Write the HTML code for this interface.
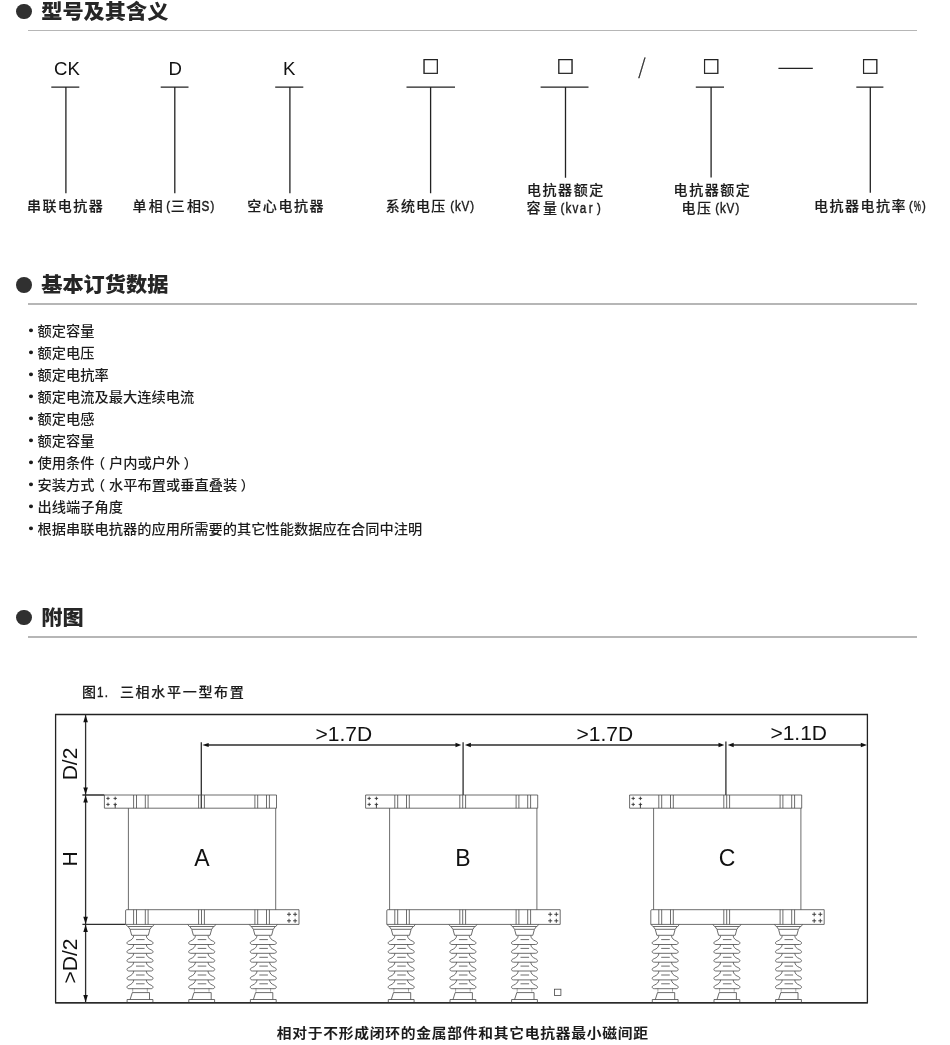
<!DOCTYPE html>
<html lang="zh-CN">
<head>
<meta charset="utf-8">
<title>型号及其含义</title>
<style>
html,body{margin:0;padding:0;background:#fff;}
body{font-family:"Liberation Sans","Noto Sans CJK SC",sans-serif;color:#1c1c1c;}
.page{position:relative;width:950px;height:1045px;overflow:hidden;background:#fff;will-change:transform;}
section,figure,ul,li,h2,p{margin:0;padding:0;}
ul{list-style:none;}
svg{position:absolute;left:0;display:block;overflow:visible;}
text{font-family:"Liberation Sans","Noto Sans CJK SC",sans-serif;}
h2{position:absolute;left:41.2px;height:24px;line-height:24px;white-space:nowrap;font-weight:900;font-size:21.2px;color:#262626;transform:scaleY(0.95);transform-origin:0 19.35px;}
.dot{position:absolute;left:16.1px;width:15.8px;height:15.8px;border-radius:50%;background:#303030;}
.rule{position:absolute;left:28px;width:888.7px;height:1.6px;background:#b6b6b6;}
li{position:absolute;left:37.6px;height:16px;line-height:16px;white-space:nowrap;font-size:14.25px;font-weight:500;color:#1c1c1c;transform:scaleY(0.94);transform-origin:0 12.94px;}
li i{position:absolute;left:-9px;top:4.7px;width:4.4px;height:4.7px;border-radius:50%;background:#1c1c1c;}
li .po{position:relative;left:-3.7px;}
li .pc{position:relative;left:3.4px;}
.lab{font-size:14px;fill:#1c1c1c;font-weight:500;stroke:#1c1c1c;stroke-width:0.15px;}
.lat{fill:#1c1c1c;stroke:#1c1c1c;stroke-width:0.45px;}
.code{font-size:18.6px;fill:#111;}
.sym{font-family:"Noto Sans CJK SC",sans-serif;fill:#222;}
.dim{font-size:21px;fill:#111;}
.big{font-size:23px;fill:#111;}
.t{fill:none;stroke:#474747;stroke-width:0.8;}
.d{fill:none;stroke:#2e2e2e;stroke-width:1.3;}
.k{fill:none;stroke:#222;stroke-width:1.3;}
</style>
</head>
<body>
<main class="page">

<section>
<span class="dot" style="top:3.7px"></span>
<h2 style="top:0.00px">型号及其含义</h2>
<div class="rule" style="top:29.9px"></div>
<svg style="top:40px" width="950" height="200" viewBox="0 40 950 200">
<path class="k" d="M51.3 87.1H79.3 M65.9 87.1V193.2"/>
<text class="code" x="67.0" y="75.2" text-anchor="middle">CK</text>
<path class="k" d="M160.7 87.1H188.5 M174.8 87.1V193.2"/>
<text class="code" x="175.2" y="75.2" text-anchor="middle">D</text>
<path class="k" d="M275.2 87.1H303.3 M289.9 87.1V193.2"/>
<text class="code" x="289.2" y="75.2" text-anchor="middle">K</text>
<path class="k" d="M406.5 87.1H455.0 M430.6 87.1V193.2"/>
<path class="k" d="M540.6 87.1H588.5 M565.5 87.1V177.8"/>
<path class="k" d="M695.8 87.1H724.0 M711.1 87.1V177.5"/>
<path class="k" d="M856.3 87.1H883.4 M870.3 87.1V192.8"/>
<text class="sym" x="430.6" y="72.75" text-anchor="middle" style="font-size:17.4px;stroke:#222;stroke-width:0.55px">□</text>
<text class="sym" x="565.4" y="72.75" text-anchor="middle" style="font-size:17.4px;stroke:#222;stroke-width:0.55px">□</text>
<text class="sym" x="711.1" y="72.75" text-anchor="middle" style="font-size:17.4px;stroke:#222;stroke-width:0.55px">□</text>
<text class="sym" x="870.2" y="72.75" text-anchor="middle" style="font-size:17.4px;stroke:#222;stroke-width:0.55px">□</text>
<text class="sym" text-anchor="middle" transform="translate(642.0 73.8) scale(0.88 1)" style="font-size:21px;font-weight:300;stroke:#222;stroke-width:0.35px">/</text>
<text class="sym" x="776.8" y="72.8" textLength="38.0" lengthAdjust="spacingAndGlyphs" style="font-size:17.4px;stroke:#222;stroke-width:0.15px">—</text>
<text class="lab" x="27.0" y="211.3" style="letter-spacing:1.43px">串联电抗器</text>
<text class="lab" x="132.6" y="211.3" style="letter-spacing:2.10px">单相</text>
<text class="lat" text-anchor="middle" transform="translate(168.2 210.2) scale(0.84 1)" style="font-size:13.6px">(</text>
<text class="lab" x="170.7" y="211.3" style="letter-spacing:2.20px">三相</text>
<text class="lat" text-anchor="middle" transform="translate(205.3 211.3) scale(0.76 1)" style="font-size:15.4px">S</text>
<text class="lat" text-anchor="middle" transform="translate(212.4 210.2) scale(0.84 1)" style="font-size:13.6px">)</text>
<text class="lab" x="247.2" y="211.3" style="letter-spacing:1.60px">空心电抗器</text>
<text class="lab" x="385.7" y="211.3" style="letter-spacing:1.20px">系统电压</text>
<text class="lat" text-anchor="middle" transform="translate(452.1 210.2) scale(0.84 1)" style="font-size:13.6px">(</text>
<text class="lat" text-anchor="middle" transform="translate(457.8 211.3) scale(0.76 1)" style="font-size:15.4px">k</text>
<text class="lat" text-anchor="middle" transform="translate(465.3 211.3) scale(0.76 1)" style="font-size:15.4px">V</text>
<text class="lat" text-anchor="middle" transform="translate(472.2 210.2) scale(0.84 1)" style="font-size:13.6px">)</text>
<text class="lab" x="527.0" y="195.1" style="letter-spacing:1.55px">电抗器额定</text>
<text class="lab" x="526.6" y="213.4" style="letter-spacing:2.30px">容量</text>
<text class="lat" text-anchor="middle" transform="translate(562.4 212.3) scale(0.84 1)" style="font-size:13.6px">(</text>
<text class="lat" text-anchor="middle" transform="translate(568.3 213.4) scale(0.76 1)" style="font-size:15.4px">k</text>
<text class="lat" text-anchor="middle" transform="translate(575.4 213.4) scale(0.76 1)" style="font-size:15.4px">v</text>
<text class="lat" text-anchor="middle" transform="translate(583.0 213.4) scale(0.76 1)" style="font-size:15.4px">a</text>
<text class="lat" text-anchor="middle" transform="translate(590.6 213.4) scale(0.76 1)" style="font-size:15.4px">r</text>
<text class="lat" text-anchor="middle" transform="translate(599.0 212.3) scale(0.84 1)" style="font-size:13.6px">)</text>
<text class="lab" x="673.6" y="195.1" style="letter-spacing:1.55px">电抗器额定</text>
<text class="lab" x="681.4" y="213.4" style="letter-spacing:1.50px">电压</text>
<text class="lat" text-anchor="middle" transform="translate(717.1 212.3) scale(0.84 1)" style="font-size:13.6px">(</text>
<text class="lat" text-anchor="middle" transform="translate(722.9 213.4) scale(0.76 1)" style="font-size:15.4px">k</text>
<text class="lat" text-anchor="middle" transform="translate(730.3 213.4) scale(0.76 1)" style="font-size:15.4px">V</text>
<text class="lat" text-anchor="middle" transform="translate(737.3 212.3) scale(0.84 1)" style="font-size:13.6px">)</text>
<text class="lab" x="813.9" y="211.3" style="letter-spacing:1.54px">电抗器电抗率</text>
<text class="lat" text-anchor="middle" transform="translate(910.9 210.2) scale(0.84 1)" style="font-size:13.6px">(</text>
<text class="lat" text-anchor="middle" transform="translate(917.2 211.3) scale(0.52 1)" style="font-size:15.4px">%</text>
<text class="lat" text-anchor="middle" transform="translate(924.0 210.2) scale(0.84 1)" style="font-size:13.6px">)</text>
</svg>
</section>
<section>
<span class="dot" style="top:276.9px"></span>
<h2 style="top:272.60px">基本订货数据</h2>
<div class="rule" style="top:303.3px"></div>
<ul>
<li style="top:323.16px"><i></i>额定容量</li>
<li style="top:345.16px"><i></i>额定电压</li>
<li style="top:367.16px"><i></i>额定电抗率</li>
<li style="top:389.16px"><i></i>额定电流及最大连续电流</li>
<li style="top:411.16px"><i></i>额定电感</li>
<li style="top:433.16px"><i></i>额定容量</li>
<li style="top:455.16px"><i></i>使用条件<span class="po">（</span>户内或户外<span class="pc">）</span></li>
<li style="top:477.16px"><i></i>安装方式<span class="po">（</span>水平布置或垂直叠装<span class="pc">）</span></li>
<li style="top:499.16px"><i></i>出线端子角度</li>
<li style="top:521.16px"><i></i>根据串联电抗器的应用所需要的其它性能数据应在合同中注明</li>
</ul>
</section>
<section>
<span class="dot" style="top:609.5px"></span>
<h2 style="top:606.05px">附图</h2>
<div class="rule" style="top:636.0px"></div>
<figure>
<svg style="top:670px" width="950" height="375" viewBox="0 670 950 375">
<text class="lab" x="82.0" y="697.3" style="letter-spacing:0.00px">图</text>
<text class="lat" text-anchor="middle" transform="translate(100.3 697.3) scale(0.76 1)" style="font-size:15.4px">1</text>
<text class="lat" text-anchor="middle" transform="translate(106.4 697.3) scale(0.76 1)" style="font-size:15.4px">.</text>
<text class="lab" x="119.9" y="697.3" style="letter-spacing:1.70px">三相水平一型布置</text>
<text class="lab" transform="translate(276.8 1038.4) scale(1 0.91)" style="font-size:14.8px;font-weight:700;letter-spacing:0.72px;stroke:none">相对于不形成闭环的金属部件和其它电抗器最小磁间距</text>
<path class="k" d="M55.6 1002.9V714.5H867.4V1002.9"/>
<rect x="55.1" y="1002.0" width="812.8" height="1.7" fill="#2a2a2a"/>
<path class="d" d="M85.6 714.5V1002.9"/>
<path class="d" d="M82.4 795.0H104.4 M82.4 924.4H125.6"/>
<path d="M85.60 715.00L87.90 722.20L83.30 722.20Z" fill="#111"/>
<path d="M85.60 794.60L83.30 787.40L87.90 787.40Z" fill="#111"/>
<path d="M85.60 795.40L87.90 802.60L83.30 802.60Z" fill="#111"/>
<path d="M85.60 924.00L83.30 916.80L87.90 916.80Z" fill="#111"/>
<path d="M85.60 924.80L87.90 932.00L83.30 932.00Z" fill="#111"/>
<path d="M85.60 1002.30L83.30 995.10L87.90 995.10Z" fill="#111"/>
<text class="dim" text-anchor="middle" transform="translate(77.2 764.0) rotate(-90)">D/2</text>
<text class="dim" text-anchor="middle" transform="translate(77.2 859.0) rotate(-90)">H</text>
<text class="dim" text-anchor="middle" transform="translate(77.2 961.0) rotate(-90)">&gt;D/2</text>
<path class="d" d="M208.0 745.0H456.2 M470.2 745.0H719.2 M733.0 745.0H861.4"/>
<path class="d" d="M201.3 742.3V808.2 M463.1 742.2V795.0 M725.9 741.6V795.0"/>
<path d="M202.30 745.00L208.70 742.90L208.70 747.10Z" fill="#111"/>
<path d="M461.30 745.00L455.50 747.20L455.50 742.80Z" fill="#111"/>
<path d="M464.90 745.00L470.90 742.80L470.90 747.20Z" fill="#111"/>
<path d="M724.30 745.00L718.50 747.20L718.50 742.80Z" fill="#111"/>
<path d="M727.70 745.00L733.70 742.80L733.70 747.20Z" fill="#111"/>
<path d="M867.00 745.00L860.80 747.20L860.80 742.80Z" fill="#111"/>
<text class="dim" x="315.6" y="740.6">&gt;1.7D</text>
<text class="dim" x="576.5" y="740.6">&gt;1.7D</text>
<text class="dim" x="770.4" y="740.4">&gt;1.1D</text>
<path class="t" style="stroke:#333;stroke-width:0.9" d="M106.3 798.4H109.7M108.0 796.7V800.1M113.5 798.4H116.9M115.2 796.7V800.1M106.3 804.4H109.7M108.0 802.7V806.1M113.5 804.4H116.9M115.2 802.7V806.1M115.2 804.4V808.2M287.0 914.3H291.0M289.0 912.3V916.3M293.1 914.3H297.1M295.1 912.3V916.3M287.0 920.8H291.0M289.0 918.8V922.8M293.1 920.8H297.1M295.1 918.8V922.8"/>
<path class="t" d="M104.4 795.0H276.5V808.2H104.4ZM126.7 909.7H299.0V924.4H125.6V910.7Q125.6 909.7 126.7 909.7M128.4 808.2V909.7 M275.7 808.2V909.7M148.1 795.0V808.2M254.9 795.0V808.2M145.3 795.0V808.2M257.7 795.0V808.2M136.5 795.0V808.2M266.5 795.0V808.2M133.6 795.0V808.2M269.4 795.0V808.2M198.6 795.0V808.2M201.5 795.0V808.2M204.4 795.0V808.2M148.1 909.7V924.4M254.9 909.7V924.4M145.3 909.7V924.4M257.7 909.7V924.4M136.5 909.7V924.4M266.5 909.7V924.4M133.6 909.7V924.4M269.4 909.7V924.4M198.6 909.7V924.4M201.5 909.7V924.4M204.4 909.7V924.4"/>
<path class="t" style="stroke-dasharray:1 0.8" d="M132.7 988.6V992.4 M147.3 988.6V992.4"/>
<path class="t" d="M126.0 924.5L127.6 926.5H152.6L154.0 924.5M128.3 926.8L130.0 929.3H150.0L151.7 926.8M130.1 929.5L131.7 935.3H148.3L149.9 929.5M133.7 935.7C133.5 938.3 131.8 939.8 129.0 941.0C127.7 941.5 126.9 942.2 127.0 943.0C127.1 944.0 127.9 944.5 129.1 944.5L150.9 944.5C152.1 944.5 152.9 944.0 153.0 943.0C153.1 942.2 152.3 941.5 151.0 941.0C148.2 939.8 146.5 938.3 146.3 935.7M136.0 939.6H144.6M133.7 944.5C133.5 947.1 131.8 948.6 129.0 949.8C127.7 950.3 126.9 951.0 127.0 951.8C127.1 952.8 127.9 953.3 129.1 953.3L150.9 953.3C152.1 953.3 152.9 952.8 153.0 951.8C153.1 951.0 152.3 950.3 151.0 949.8C148.2 948.6 146.5 947.1 146.3 944.5M136.0 948.4H144.6M133.7 953.4C133.5 956.0 131.8 957.5 129.0 958.7C127.7 959.2 126.9 959.9 127.0 960.7C127.1 961.7 127.9 962.2 129.1 962.2L150.9 962.2C152.1 962.2 152.9 961.7 153.0 960.7C153.1 959.9 152.3 959.2 151.0 958.7C148.2 957.5 146.5 956.0 146.3 953.4M136.0 957.3H144.6M133.7 962.2C133.5 964.8 131.8 966.3 129.0 967.5C127.7 968.0 126.9 968.7 127.0 969.5C127.1 970.5 127.9 971.0 129.1 971.0L150.9 971.0C152.1 971.0 152.9 970.5 153.0 969.5C153.1 968.7 152.3 968.0 151.0 967.5C148.2 966.3 146.5 964.8 146.3 962.2M136.0 966.1H144.6M133.7 971.1C133.5 973.7 131.8 975.2 129.0 976.4C127.7 976.9 126.9 977.6 127.0 978.4C127.1 979.4 127.9 979.9 129.1 979.9L150.9 979.9C152.1 979.9 152.9 979.4 153.0 978.4C153.1 977.6 152.3 976.9 151.0 976.4C148.2 975.2 146.5 973.7 146.3 971.1M136.0 975.0H144.6M133.7 979.9C133.5 982.5 131.8 984.0 129.0 985.2C127.7 985.7 126.9 986.4 127.0 987.2C127.1 988.2 127.9 988.7 129.1 988.7L150.9 988.7C152.1 988.7 152.9 988.2 153.0 987.2C153.1 986.4 152.3 985.7 151.0 985.2C148.2 984.0 146.5 982.5 146.3 979.9M136.0 983.8H144.6M130.1 999.5L132.3 992.6H149.5V999.5M127.1 1002.3V999.5H152.9V1002.3"/>
<path class="t" style="stroke-dasharray:1 0.8" d="M194.4 988.6V992.4 M209.0 988.6V992.4"/>
<path class="t" d="M187.7 924.5L189.3 926.5H214.3L215.7 924.5M190.0 926.8L191.7 929.3H211.7L213.4 926.8M191.8 929.5L193.4 935.3H210.0L211.6 929.5M195.4 935.7C195.2 938.3 193.5 939.8 190.7 941.0C189.4 941.5 188.6 942.2 188.7 943.0C188.8 944.0 189.6 944.5 190.8 944.5L212.6 944.5C213.8 944.5 214.6 944.0 214.7 943.0C214.8 942.2 214.0 941.5 212.7 941.0C209.9 939.8 208.2 938.3 208.0 935.7M197.7 939.6H206.3M195.4 944.5C195.2 947.1 193.5 948.6 190.7 949.8C189.4 950.3 188.6 951.0 188.7 951.8C188.8 952.8 189.6 953.3 190.8 953.3L212.6 953.3C213.8 953.3 214.6 952.8 214.7 951.8C214.8 951.0 214.0 950.3 212.7 949.8C209.9 948.6 208.2 947.1 208.0 944.5M197.7 948.4H206.3M195.4 953.4C195.2 956.0 193.5 957.5 190.7 958.7C189.4 959.2 188.6 959.9 188.7 960.7C188.8 961.7 189.6 962.2 190.8 962.2L212.6 962.2C213.8 962.2 214.6 961.7 214.7 960.7C214.8 959.9 214.0 959.2 212.7 958.7C209.9 957.5 208.2 956.0 208.0 953.4M197.7 957.3H206.3M195.4 962.2C195.2 964.8 193.5 966.3 190.7 967.5C189.4 968.0 188.6 968.7 188.7 969.5C188.8 970.5 189.6 971.0 190.8 971.0L212.6 971.0C213.8 971.0 214.6 970.5 214.7 969.5C214.8 968.7 214.0 968.0 212.7 967.5C209.9 966.3 208.2 964.8 208.0 962.2M197.7 966.1H206.3M195.4 971.1C195.2 973.7 193.5 975.2 190.7 976.4C189.4 976.9 188.6 977.6 188.7 978.4C188.8 979.4 189.6 979.9 190.8 979.9L212.6 979.9C213.8 979.9 214.6 979.4 214.7 978.4C214.8 977.6 214.0 976.9 212.7 976.4C209.9 975.2 208.2 973.7 208.0 971.1M197.7 975.0H206.3M195.4 979.9C195.2 982.5 193.5 984.0 190.7 985.2C189.4 985.7 188.6 986.4 188.7 987.2C188.8 988.2 189.6 988.7 190.8 988.7L212.6 988.7C213.8 988.7 214.6 988.2 214.7 987.2C214.8 986.4 214.0 985.7 212.7 985.2C209.9 984.0 208.2 982.5 208.0 979.9M197.7 983.8H206.3M191.8 999.5L194.0 992.6H211.2V999.5M188.8 1002.3V999.5H214.6V1002.3"/>
<path class="t" style="stroke-dasharray:1 0.8" d="M256.0 988.6V992.4 M270.6 988.6V992.4"/>
<path class="t" d="M249.3 924.5L250.9 926.5H275.9L277.3 924.5M251.6 926.8L253.3 929.3H273.3L275.0 926.8M253.4 929.5L255.0 935.3H271.6L273.2 929.5M257.0 935.7C256.8 938.3 255.1 939.8 252.3 941.0C251.0 941.5 250.2 942.2 250.3 943.0C250.4 944.0 251.2 944.5 252.4 944.5L274.2 944.5C275.4 944.5 276.2 944.0 276.3 943.0C276.4 942.2 275.6 941.5 274.3 941.0C271.5 939.8 269.8 938.3 269.6 935.7M259.3 939.6H267.9M257.0 944.5C256.8 947.1 255.1 948.6 252.3 949.8C251.0 950.3 250.2 951.0 250.3 951.8C250.4 952.8 251.2 953.3 252.4 953.3L274.2 953.3C275.4 953.3 276.2 952.8 276.3 951.8C276.4 951.0 275.6 950.3 274.3 949.8C271.5 948.6 269.8 947.1 269.6 944.5M259.3 948.4H267.9M257.0 953.4C256.8 956.0 255.1 957.5 252.3 958.7C251.0 959.2 250.2 959.9 250.3 960.7C250.4 961.7 251.2 962.2 252.4 962.2L274.2 962.2C275.4 962.2 276.2 961.7 276.3 960.7C276.4 959.9 275.6 959.2 274.3 958.7C271.5 957.5 269.8 956.0 269.6 953.4M259.3 957.3H267.9M257.0 962.2C256.8 964.8 255.1 966.3 252.3 967.5C251.0 968.0 250.2 968.7 250.3 969.5C250.4 970.5 251.2 971.0 252.4 971.0L274.2 971.0C275.4 971.0 276.2 970.5 276.3 969.5C276.4 968.7 275.6 968.0 274.3 967.5C271.5 966.3 269.8 964.8 269.6 962.2M259.3 966.1H267.9M257.0 971.1C256.8 973.7 255.1 975.2 252.3 976.4C251.0 976.9 250.2 977.6 250.3 978.4C250.4 979.4 251.2 979.9 252.4 979.9L274.2 979.9C275.4 979.9 276.2 979.4 276.3 978.4C276.4 977.6 275.6 976.9 274.3 976.4C271.5 975.2 269.8 973.7 269.6 971.1M259.3 975.0H267.9M257.0 979.9C256.8 982.5 255.1 984.0 252.3 985.2C251.0 985.7 250.2 986.4 250.3 987.2C250.4 988.2 251.2 988.7 252.4 988.7L274.2 988.7C275.4 988.7 276.2 988.2 276.3 987.2C276.4 986.4 275.6 985.7 274.3 985.2C271.5 984.0 269.8 982.5 269.6 979.9M259.3 983.8H267.9M253.4 999.5L255.6 992.6H272.8V999.5M250.4 1002.3V999.5H276.2V1002.3"/>
<text class="big" x="201.8" y="866.3" text-anchor="middle">A</text>
<path class="t" style="stroke:#333;stroke-width:0.9" d="M367.5 798.4H370.9M369.2 796.7V800.1M374.7 798.4H378.1M376.4 796.7V800.1M367.5 804.4H370.9M369.2 802.7V806.1M374.7 804.4H378.1M376.4 802.7V806.1M376.4 804.4V808.2M548.2 914.3H552.2M550.2 912.3V916.3M554.3 914.3H558.3M556.3 912.3V916.3M548.2 920.8H552.2M550.2 918.8V922.8M554.3 920.8H558.3M556.3 918.8V922.8"/>
<path class="t" d="M365.6 795.0H537.7V808.2H365.6ZM387.9 909.7H560.2V924.4H386.8V910.7Q386.8 909.7 387.9 909.7M389.6 808.2V909.7 M536.9 808.2V909.7M409.3 795.0V808.2M516.1 795.0V808.2M406.5 795.0V808.2M518.9 795.0V808.2M397.7 795.0V808.2M527.7 795.0V808.2M394.8 795.0V808.2M530.6 795.0V808.2M459.8 795.0V808.2M462.7 795.0V808.2M465.6 795.0V808.2M409.3 909.7V924.4M516.1 909.7V924.4M406.5 909.7V924.4M518.9 909.7V924.4M397.7 909.7V924.4M527.7 909.7V924.4M394.8 909.7V924.4M530.6 909.7V924.4M459.8 909.7V924.4M462.7 909.7V924.4M465.6 909.7V924.4"/>
<path class="t" style="stroke-dasharray:1 0.8" d="M393.9 988.6V992.4 M408.5 988.6V992.4"/>
<path class="t" d="M387.2 924.5L388.8 926.5H413.8L415.2 924.5M389.5 926.8L391.2 929.3H411.2L412.9 926.8M391.3 929.5L392.9 935.3H409.5L411.1 929.5M394.9 935.7C394.7 938.3 393.0 939.8 390.2 941.0C388.9 941.5 388.1 942.2 388.2 943.0C388.3 944.0 389.1 944.5 390.3 944.5L412.1 944.5C413.3 944.5 414.1 944.0 414.2 943.0C414.3 942.2 413.5 941.5 412.2 941.0C409.4 939.8 407.7 938.3 407.5 935.7M397.2 939.6H405.8M394.9 944.5C394.7 947.1 393.0 948.6 390.2 949.8C388.9 950.3 388.1 951.0 388.2 951.8C388.3 952.8 389.1 953.3 390.3 953.3L412.1 953.3C413.3 953.3 414.1 952.8 414.2 951.8C414.3 951.0 413.5 950.3 412.2 949.8C409.4 948.6 407.7 947.1 407.5 944.5M397.2 948.4H405.8M394.9 953.4C394.7 956.0 393.0 957.5 390.2 958.7C388.9 959.2 388.1 959.9 388.2 960.7C388.3 961.7 389.1 962.2 390.3 962.2L412.1 962.2C413.3 962.2 414.1 961.7 414.2 960.7C414.3 959.9 413.5 959.2 412.2 958.7C409.4 957.5 407.7 956.0 407.5 953.4M397.2 957.3H405.8M394.9 962.2C394.7 964.8 393.0 966.3 390.2 967.5C388.9 968.0 388.1 968.7 388.2 969.5C388.3 970.5 389.1 971.0 390.3 971.0L412.1 971.0C413.3 971.0 414.1 970.5 414.2 969.5C414.3 968.7 413.5 968.0 412.2 967.5C409.4 966.3 407.7 964.8 407.5 962.2M397.2 966.1H405.8M394.9 971.1C394.7 973.7 393.0 975.2 390.2 976.4C388.9 976.9 388.1 977.6 388.2 978.4C388.3 979.4 389.1 979.9 390.3 979.9L412.1 979.9C413.3 979.9 414.1 979.4 414.2 978.4C414.3 977.6 413.5 976.9 412.2 976.4C409.4 975.2 407.7 973.7 407.5 971.1M397.2 975.0H405.8M394.9 979.9C394.7 982.5 393.0 984.0 390.2 985.2C388.9 985.7 388.1 986.4 388.2 987.2C388.3 988.2 389.1 988.7 390.3 988.7L412.1 988.7C413.3 988.7 414.1 988.2 414.2 987.2C414.3 986.4 413.5 985.7 412.2 985.2C409.4 984.0 407.7 982.5 407.5 979.9M397.2 983.8H405.8M391.3 999.5L393.5 992.6H410.7V999.5M388.3 1002.3V999.5H414.1V1002.3"/>
<path class="t" style="stroke-dasharray:1 0.8" d="M455.6 988.6V992.4 M470.2 988.6V992.4"/>
<path class="t" d="M448.9 924.5L450.5 926.5H475.5L476.9 924.5M451.2 926.8L452.9 929.3H472.9L474.6 926.8M453.0 929.5L454.6 935.3H471.2L472.8 929.5M456.6 935.7C456.4 938.3 454.7 939.8 451.9 941.0C450.6 941.5 449.8 942.2 449.9 943.0C450.0 944.0 450.8 944.5 452.0 944.5L473.8 944.5C475.0 944.5 475.8 944.0 475.9 943.0C476.0 942.2 475.2 941.5 473.9 941.0C471.1 939.8 469.4 938.3 469.2 935.7M458.9 939.6H467.5M456.6 944.5C456.4 947.1 454.7 948.6 451.9 949.8C450.6 950.3 449.8 951.0 449.9 951.8C450.0 952.8 450.8 953.3 452.0 953.3L473.8 953.3C475.0 953.3 475.8 952.8 475.9 951.8C476.0 951.0 475.2 950.3 473.9 949.8C471.1 948.6 469.4 947.1 469.2 944.5M458.9 948.4H467.5M456.6 953.4C456.4 956.0 454.7 957.5 451.9 958.7C450.6 959.2 449.8 959.9 449.9 960.7C450.0 961.7 450.8 962.2 452.0 962.2L473.8 962.2C475.0 962.2 475.8 961.7 475.9 960.7C476.0 959.9 475.2 959.2 473.9 958.7C471.1 957.5 469.4 956.0 469.2 953.4M458.9 957.3H467.5M456.6 962.2C456.4 964.8 454.7 966.3 451.9 967.5C450.6 968.0 449.8 968.7 449.9 969.5C450.0 970.5 450.8 971.0 452.0 971.0L473.8 971.0C475.0 971.0 475.8 970.5 475.9 969.5C476.0 968.7 475.2 968.0 473.9 967.5C471.1 966.3 469.4 964.8 469.2 962.2M458.9 966.1H467.5M456.6 971.1C456.4 973.7 454.7 975.2 451.9 976.4C450.6 976.9 449.8 977.6 449.9 978.4C450.0 979.4 450.8 979.9 452.0 979.9L473.8 979.9C475.0 979.9 475.8 979.4 475.9 978.4C476.0 977.6 475.2 976.9 473.9 976.4C471.1 975.2 469.4 973.7 469.2 971.1M458.9 975.0H467.5M456.6 979.9C456.4 982.5 454.7 984.0 451.9 985.2C450.6 985.7 449.8 986.4 449.9 987.2C450.0 988.2 450.8 988.7 452.0 988.7L473.8 988.7C475.0 988.7 475.8 988.2 475.9 987.2C476.0 986.4 475.2 985.7 473.9 985.2C471.1 984.0 469.4 982.5 469.2 979.9M458.9 983.8H467.5M453.0 999.5L455.2 992.6H472.4V999.5M450.0 1002.3V999.5H475.8V1002.3"/>
<path class="t" style="stroke-dasharray:1 0.8" d="M517.2 988.6V992.4 M531.8 988.6V992.4"/>
<path class="t" d="M510.5 924.5L512.1 926.5H537.1L538.5 924.5M512.8 926.8L514.5 929.3H534.5L536.2 926.8M514.6 929.5L516.2 935.3H532.8L534.4 929.5M518.2 935.7C518.0 938.3 516.3 939.8 513.5 941.0C512.2 941.5 511.4 942.2 511.5 943.0C511.6 944.0 512.4 944.5 513.6 944.5L535.4 944.5C536.6 944.5 537.4 944.0 537.5 943.0C537.6 942.2 536.8 941.5 535.5 941.0C532.7 939.8 531.0 938.3 530.8 935.7M520.5 939.6H529.1M518.2 944.5C518.0 947.1 516.3 948.6 513.5 949.8C512.2 950.3 511.4 951.0 511.5 951.8C511.6 952.8 512.4 953.3 513.6 953.3L535.4 953.3C536.6 953.3 537.4 952.8 537.5 951.8C537.6 951.0 536.8 950.3 535.5 949.8C532.7 948.6 531.0 947.1 530.8 944.5M520.5 948.4H529.1M518.2 953.4C518.0 956.0 516.3 957.5 513.5 958.7C512.2 959.2 511.4 959.9 511.5 960.7C511.6 961.7 512.4 962.2 513.6 962.2L535.4 962.2C536.6 962.2 537.4 961.7 537.5 960.7C537.6 959.9 536.8 959.2 535.5 958.7C532.7 957.5 531.0 956.0 530.8 953.4M520.5 957.3H529.1M518.2 962.2C518.0 964.8 516.3 966.3 513.5 967.5C512.2 968.0 511.4 968.7 511.5 969.5C511.6 970.5 512.4 971.0 513.6 971.0L535.4 971.0C536.6 971.0 537.4 970.5 537.5 969.5C537.6 968.7 536.8 968.0 535.5 967.5C532.7 966.3 531.0 964.8 530.8 962.2M520.5 966.1H529.1M518.2 971.1C518.0 973.7 516.3 975.2 513.5 976.4C512.2 976.9 511.4 977.6 511.5 978.4C511.6 979.4 512.4 979.9 513.6 979.9L535.4 979.9C536.6 979.9 537.4 979.4 537.5 978.4C537.6 977.6 536.8 976.9 535.5 976.4C532.7 975.2 531.0 973.7 530.8 971.1M520.5 975.0H529.1M518.2 979.9C518.0 982.5 516.3 984.0 513.5 985.2C512.2 985.7 511.4 986.4 511.5 987.2C511.6 988.2 512.4 988.7 513.6 988.7L535.4 988.7C536.6 988.7 537.4 988.2 537.5 987.2C537.6 986.4 536.8 985.7 535.5 985.2C532.7 984.0 531.0 982.5 530.8 979.9M520.5 983.8H529.1M514.6 999.5L516.8 992.6H534.0V999.5M511.6 1002.3V999.5H537.4V1002.3"/>
<text class="big" x="463.0" y="866.3" text-anchor="middle">B</text>
<path class="t" style="stroke:#333;stroke-width:0.9" d="M631.5 798.4H634.9M633.2 796.7V800.1M638.7 798.4H642.1M640.4 796.7V800.1M631.5 804.4H634.9M633.2 802.7V806.1M638.7 804.4H642.1M640.4 802.7V806.1M640.4 804.4V808.2M812.2 914.3H816.2M814.2 912.3V916.3M818.3 914.3H822.3M820.3 912.3V916.3M812.2 920.8H816.2M814.2 918.8V922.8M818.3 920.8H822.3M820.3 918.8V922.8"/>
<path class="t" d="M629.6 795.0H801.7V808.2H629.6ZM651.9 909.7H824.2V924.4H650.8V910.7Q650.8 909.7 651.9 909.7M653.6 808.2V909.7 M800.9 808.2V909.7M673.3 795.0V808.2M780.1 795.0V808.2M670.5 795.0V808.2M782.9 795.0V808.2M661.7 795.0V808.2M791.7 795.0V808.2M658.8 795.0V808.2M794.6 795.0V808.2M723.8 795.0V808.2M726.7 795.0V808.2M729.6 795.0V808.2M673.3 909.7V924.4M780.1 909.7V924.4M670.5 909.7V924.4M782.9 909.7V924.4M661.7 909.7V924.4M791.7 909.7V924.4M658.8 909.7V924.4M794.6 909.7V924.4M723.8 909.7V924.4M726.7 909.7V924.4M729.6 909.7V924.4"/>
<path class="t" style="stroke-dasharray:1 0.8" d="M657.9 988.6V992.4 M672.5 988.6V992.4"/>
<path class="t" d="M651.2 924.5L652.8 926.5H677.8L679.2 924.5M653.5 926.8L655.2 929.3H675.2L676.9 926.8M655.3 929.5L656.9 935.3H673.5L675.1 929.5M658.9 935.7C658.7 938.3 657.0 939.8 654.2 941.0C652.9 941.5 652.1 942.2 652.2 943.0C652.3 944.0 653.1 944.5 654.3 944.5L676.1 944.5C677.3 944.5 678.1 944.0 678.2 943.0C678.3 942.2 677.5 941.5 676.2 941.0C673.4 939.8 671.7 938.3 671.5 935.7M661.2 939.6H669.8M658.9 944.5C658.7 947.1 657.0 948.6 654.2 949.8C652.9 950.3 652.1 951.0 652.2 951.8C652.3 952.8 653.1 953.3 654.3 953.3L676.1 953.3C677.3 953.3 678.1 952.8 678.2 951.8C678.3 951.0 677.5 950.3 676.2 949.8C673.4 948.6 671.7 947.1 671.5 944.5M661.2 948.4H669.8M658.9 953.4C658.7 956.0 657.0 957.5 654.2 958.7C652.9 959.2 652.1 959.9 652.2 960.7C652.3 961.7 653.1 962.2 654.3 962.2L676.1 962.2C677.3 962.2 678.1 961.7 678.2 960.7C678.3 959.9 677.5 959.2 676.2 958.7C673.4 957.5 671.7 956.0 671.5 953.4M661.2 957.3H669.8M658.9 962.2C658.7 964.8 657.0 966.3 654.2 967.5C652.9 968.0 652.1 968.7 652.2 969.5C652.3 970.5 653.1 971.0 654.3 971.0L676.1 971.0C677.3 971.0 678.1 970.5 678.2 969.5C678.3 968.7 677.5 968.0 676.2 967.5C673.4 966.3 671.7 964.8 671.5 962.2M661.2 966.1H669.8M658.9 971.1C658.7 973.7 657.0 975.2 654.2 976.4C652.9 976.9 652.1 977.6 652.2 978.4C652.3 979.4 653.1 979.9 654.3 979.9L676.1 979.9C677.3 979.9 678.1 979.4 678.2 978.4C678.3 977.6 677.5 976.9 676.2 976.4C673.4 975.2 671.7 973.7 671.5 971.1M661.2 975.0H669.8M658.9 979.9C658.7 982.5 657.0 984.0 654.2 985.2C652.9 985.7 652.1 986.4 652.2 987.2C652.3 988.2 653.1 988.7 654.3 988.7L676.1 988.7C677.3 988.7 678.1 988.2 678.2 987.2C678.3 986.4 677.5 985.7 676.2 985.2C673.4 984.0 671.7 982.5 671.5 979.9M661.2 983.8H669.8M655.3 999.5L657.5 992.6H674.7V999.5M652.3 1002.3V999.5H678.1V1002.3"/>
<path class="t" style="stroke-dasharray:1 0.8" d="M719.6 988.6V992.4 M734.2 988.6V992.4"/>
<path class="t" d="M712.9 924.5L714.5 926.5H739.5L740.9 924.5M715.2 926.8L716.9 929.3H736.9L738.6 926.8M717.0 929.5L718.6 935.3H735.2L736.8 929.5M720.6 935.7C720.4 938.3 718.7 939.8 715.9 941.0C714.6 941.5 713.8 942.2 713.9 943.0C714.0 944.0 714.8 944.5 716.0 944.5L737.8 944.5C739.0 944.5 739.8 944.0 739.9 943.0C740.0 942.2 739.2 941.5 737.9 941.0C735.1 939.8 733.4 938.3 733.2 935.7M722.9 939.6H731.5M720.6 944.5C720.4 947.1 718.7 948.6 715.9 949.8C714.6 950.3 713.8 951.0 713.9 951.8C714.0 952.8 714.8 953.3 716.0 953.3L737.8 953.3C739.0 953.3 739.8 952.8 739.9 951.8C740.0 951.0 739.2 950.3 737.9 949.8C735.1 948.6 733.4 947.1 733.2 944.5M722.9 948.4H731.5M720.6 953.4C720.4 956.0 718.7 957.5 715.9 958.7C714.6 959.2 713.8 959.9 713.9 960.7C714.0 961.7 714.8 962.2 716.0 962.2L737.8 962.2C739.0 962.2 739.8 961.7 739.9 960.7C740.0 959.9 739.2 959.2 737.9 958.7C735.1 957.5 733.4 956.0 733.2 953.4M722.9 957.3H731.5M720.6 962.2C720.4 964.8 718.7 966.3 715.9 967.5C714.6 968.0 713.8 968.7 713.9 969.5C714.0 970.5 714.8 971.0 716.0 971.0L737.8 971.0C739.0 971.0 739.8 970.5 739.9 969.5C740.0 968.7 739.2 968.0 737.9 967.5C735.1 966.3 733.4 964.8 733.2 962.2M722.9 966.1H731.5M720.6 971.1C720.4 973.7 718.7 975.2 715.9 976.4C714.6 976.9 713.8 977.6 713.9 978.4C714.0 979.4 714.8 979.9 716.0 979.9L737.8 979.9C739.0 979.9 739.8 979.4 739.9 978.4C740.0 977.6 739.2 976.9 737.9 976.4C735.1 975.2 733.4 973.7 733.2 971.1M722.9 975.0H731.5M720.6 979.9C720.4 982.5 718.7 984.0 715.9 985.2C714.6 985.7 713.8 986.4 713.9 987.2C714.0 988.2 714.8 988.7 716.0 988.7L737.8 988.7C739.0 988.7 739.8 988.2 739.9 987.2C740.0 986.4 739.2 985.7 737.9 985.2C735.1 984.0 733.4 982.5 733.2 979.9M722.9 983.8H731.5M717.0 999.5L719.2 992.6H736.4V999.5M714.0 1002.3V999.5H739.8V1002.3"/>
<path class="t" style="stroke-dasharray:1 0.8" d="M781.2 988.6V992.4 M795.8 988.6V992.4"/>
<path class="t" d="M774.5 924.5L776.1 926.5H801.1L802.5 924.5M776.8 926.8L778.5 929.3H798.5L800.2 926.8M778.6 929.5L780.2 935.3H796.8L798.4 929.5M782.2 935.7C782.0 938.3 780.3 939.8 777.5 941.0C776.2 941.5 775.4 942.2 775.5 943.0C775.6 944.0 776.4 944.5 777.6 944.5L799.4 944.5C800.6 944.5 801.4 944.0 801.5 943.0C801.6 942.2 800.8 941.5 799.5 941.0C796.7 939.8 795.0 938.3 794.8 935.7M784.5 939.6H793.1M782.2 944.5C782.0 947.1 780.3 948.6 777.5 949.8C776.2 950.3 775.4 951.0 775.5 951.8C775.6 952.8 776.4 953.3 777.6 953.3L799.4 953.3C800.6 953.3 801.4 952.8 801.5 951.8C801.6 951.0 800.8 950.3 799.5 949.8C796.7 948.6 795.0 947.1 794.8 944.5M784.5 948.4H793.1M782.2 953.4C782.0 956.0 780.3 957.5 777.5 958.7C776.2 959.2 775.4 959.9 775.5 960.7C775.6 961.7 776.4 962.2 777.6 962.2L799.4 962.2C800.6 962.2 801.4 961.7 801.5 960.7C801.6 959.9 800.8 959.2 799.5 958.7C796.7 957.5 795.0 956.0 794.8 953.4M784.5 957.3H793.1M782.2 962.2C782.0 964.8 780.3 966.3 777.5 967.5C776.2 968.0 775.4 968.7 775.5 969.5C775.6 970.5 776.4 971.0 777.6 971.0L799.4 971.0C800.6 971.0 801.4 970.5 801.5 969.5C801.6 968.7 800.8 968.0 799.5 967.5C796.7 966.3 795.0 964.8 794.8 962.2M784.5 966.1H793.1M782.2 971.1C782.0 973.7 780.3 975.2 777.5 976.4C776.2 976.9 775.4 977.6 775.5 978.4C775.6 979.4 776.4 979.9 777.6 979.9L799.4 979.9C800.6 979.9 801.4 979.4 801.5 978.4C801.6 977.6 800.8 976.9 799.5 976.4C796.7 975.2 795.0 973.7 794.8 971.1M784.5 975.0H793.1M782.2 979.9C782.0 982.5 780.3 984.0 777.5 985.2C776.2 985.7 775.4 986.4 775.5 987.2C775.6 988.2 776.4 988.7 777.6 988.7L799.4 988.7C800.6 988.7 801.4 988.2 801.5 987.2C801.6 986.4 800.8 985.7 799.5 985.2C796.7 984.0 795.0 982.5 794.8 979.9M784.5 983.8H793.1M778.6 999.5L780.8 992.6H798.0V999.5M775.6 1002.3V999.5H801.4V1002.3"/>
<text class="big" x="727.0" y="866.3" text-anchor="middle">C</text>
<rect class="t" x="554.6" y="989.2" width="6.3" height="6.2"/>
</svg>
</figure>
</section>
</main>
</body>
</html>
